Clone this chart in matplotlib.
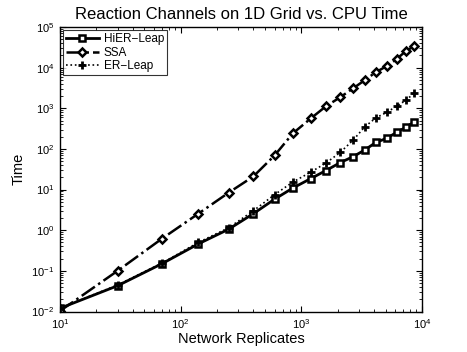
import numpy as np
import matplotlib
matplotlib.use('Agg')
import matplotlib.pyplot as plt
from matplotlib.ticker import LogLocator, NullFormatter

plt.rcParams['font.family'] = ['Liberation Sans', 'DejaVu Sans']
plt.rcParams['mathtext.fontset'] = 'custom'
plt.rcParams['mathtext.rm'] = 'Liberation Sans'
plt.rcParams['mathtext.it'] = 'Liberation Sans:italic'
plt.rcParams['mathtext.bf'] = 'Liberation Sans:bold'

# data
replicates = [10, 30, 70, 140, 250, 400, 600, 850, 1200, 1600, 2100, 2700,
              3350, 4150, 5100, 6150, 7350, 8600]
hier_leap = [0.012, 0.043, 0.15, 0.46, 1.06, 2.55, 5.8, 10.9, 18.7, 29.4,
             46, 65, 94, 145, 182, 255, 340, 460]
ssa = [0.0103, 0.1, 0.62, 2.55, 8.4, 21, 69, 241, 566, 1120, 1870, 3120,
       4910, 7740, 10900, 16200, 25500, 34000]
er_leap = [0.012, 0.045, 0.155, 0.5, 1.15, 3.0, 7.5, 15.3, 27, 45, 82, 167,
           349, 582, 796, 1120, 1578, 2345]

fig = plt.figure(figsize=(4.67, 3.52), dpi=100)
ax = fig.add_axes([60/467, 1-311.5/352, (422-60)/467, (311.5-27)/352])

ax.plot(replicates, hier_leap, '-', color='k', lw=2, marker='s', ms=4.5,
        mfc='w', mec='k', mew=1.8, label='HiER\u2212Leap')
ax.plot(replicates, ssa, '-.', color='k', lw=1.8, marker='D', ms=4.5,
        mfc='w', mec='k', mew=1.8, label='SSA')
ax.plot(replicates, er_leap, ':', color='k', lw=1.2, marker='+', ms=6,
        mew=2, label='ER\u2212Leap')

ax.set_xscale('log')
ax.set_yscale('log')
ax.set_xlim(10, 1e4)
ax.set_ylim(1e-2, 1e5)
ax.xaxis.set_major_locator(LogLocator(base=10, numticks=10))
ax.yaxis.set_major_locator(LogLocator(base=10, numticks=10))
ax.xaxis.set_minor_locator(LogLocator(base=10, subs=np.arange(2, 10), numticks=20))
ax.yaxis.set_minor_locator(LogLocator(base=10, subs=np.arange(2, 10), numticks=20))
ax.xaxis.set_minor_formatter(NullFormatter())
ax.yaxis.set_minor_formatter(NullFormatter())

ax.tick_params(which='both', direction='in', top=True, right=True, labelsize=8)
ax.tick_params(which='major', length=4, width=0.8, pad=4)
ax.tick_params(which='minor', length=2, width=0.6)
for s in ax.spines.values():
    s.set_linewidth(1.0)

ax.set_title('Reaction Channels on 1D Grid vs. CPU Time', fontsize=12, pad=6)
ax.set_xlabel('Network Replicates', fontsize=10.5, labelpad=1)
ax.set_ylabel('Time', fontsize=10.5, labelpad=4)

leg = ax.legend(loc='upper left', fontsize=8.5, frameon=True, fancybox=False,
                edgecolor='k', handlelength=2.8, borderaxespad=0.25,
                labelspacing=0.15, borderpad=0.25, handletextpad=0.4)
leg.get_frame().set_linewidth(0.8)

fig.savefig('out.png', dpi=100)
